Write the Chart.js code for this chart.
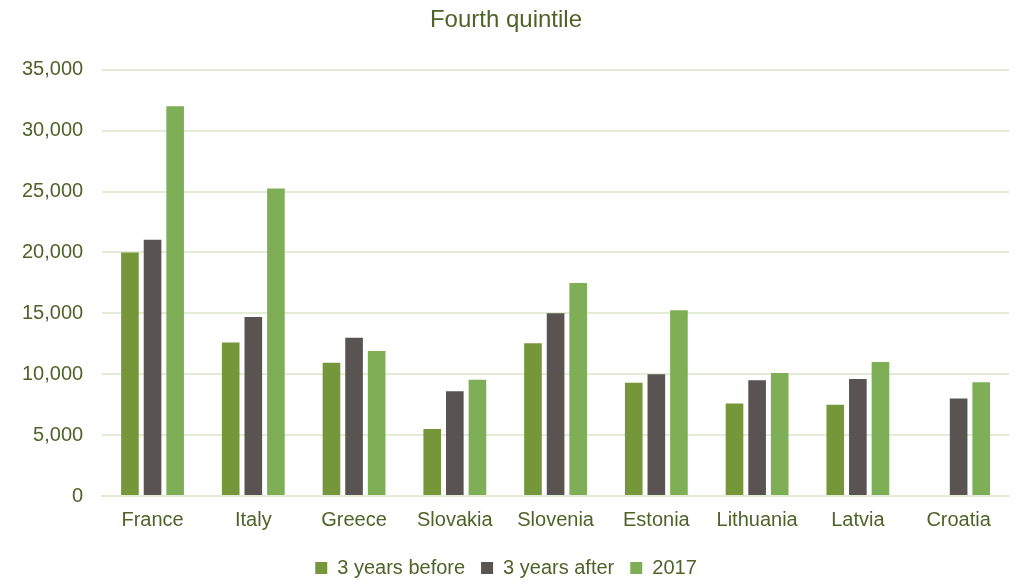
<!DOCTYPE html>
<html>
<head>
<meta charset="utf-8">
<script src="https://cdn.jsdelivr.net/npm/chart.js@4/dist/chart.umd.min.js"></script>
<style>
  html, body { margin: 0; padding: 0; background: #fff; }
  #wrap { width: 1015px; height: 582px; }
</style>
</head>
<body>
<div id="wrap"><canvas id="quintile"></canvas></div>
<script>
// Countries and series values
const countries = ["France", "Italy", "Greece", "Slovakia", "Slovenia", "Estonia", "Lithuania", "Latvia", "Croatia"];
const threeYearsBefore = [20000, 12600, 10950, 5500, 12550, 9300, 7600, 7500, null];
const threeYearsAfter = [21050, 14700, 13000, 8600, 15000, 10000, 9500, 9600, 8000];
const year2017 = [32000, 25250, 11900, 9550, 17500, 15250, 10100, 11000, 9350];
const yTicks = [0, 5000, 10000, 15000, 20000, 25000, 30000, 35000];

const textColor = "#4F6228";
const gridColor = "#E3ECD6";
const fontFamily = "'Liberation Sans', Arial, sans-serif";

window.addEventListener('load', function() {
  const ctx = document.getElementById("quintile").getContext("2d");

  new Chart(ctx, {
    type: "bar",
    data: {
      labels: countries,
      datasets: [
        { label: "3 years before", data: threeYearsBefore, backgroundColor: "#76963A" },
        { label: "3 years after", data: threeYearsAfter, backgroundColor: "#595352" },
        { label: "2017", data: year2017, backgroundColor: "#7EAF56" },
      ],
    },
    options: {
      responsive: true,
      maintainAspectRatio: false,
      animation: false,
      datasets: {
        bar: { categoryPercentage: 0.673, barPercentage: 0.78 },
      },
      layout: { padding: { left: 3, right: 6, top: 0, bottom: -6 } },
      plugins: {
        tooltip: { enabled: false },
        title: {
          display: true,
          text: "Fourth quintile",
          color: textColor,
          font: { family: fontFamily, size: 24, weight: "normal" },
          padding: { top: 6, bottom: 35 },
        },
        legend: {
          display: true,
          position: "bottom",
          // empty title just adds a little room above the legend items
          title: { display: true, text: "", padding: 0, font: { size: 5, lineHeight: 1.2 } },
          labels: {
            color: textColor,
            font: { family: fontFamily, size: 20 },
            boxWidth: 12,
            boxHeight: 12,
            padding: 16,
          },
        },
      },
      scales: {
        x: {
          grid: { display: false },
          border: { color: gridColor, width: 2 },
          ticks: {
            color: textColor,
            font: { family: fontFamily, size: 20 },
            padding: 4,
          },
        },
        y: {
          min: 0,
          max: 35000,
          afterBuildTicks: (axis) => {
            axis.ticks = yTicks.map((v) => ({ value: v }));
          },
          grid: { color: gridColor, lineWidth: 2, drawTicks: false },
          border: { display: false },
          ticks: {
            color: textColor,
            font: { family: fontFamily, size: 20 },
            padding: 19,
            callback: (value) => value.toLocaleString("en-US"),
          },
        },
      },
    },
  });
});
</script>
</body>
</html>
